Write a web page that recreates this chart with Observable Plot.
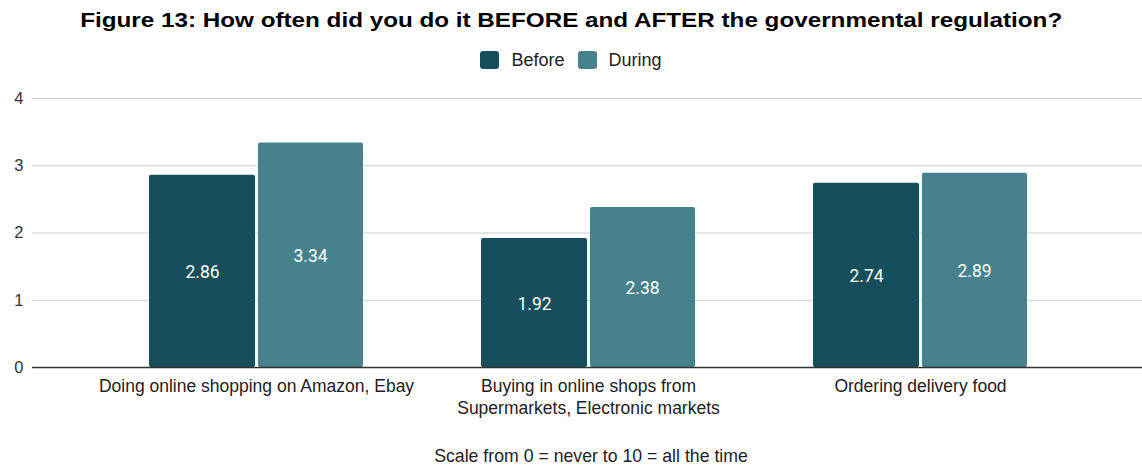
<!DOCTYPE html>
<html>
<head>
<meta charset="utf-8">
<script src="https://cdn.jsdelivr.net/npm/d3@7"></script>
<script src="https://cdn.jsdelivr.net/npm/@observablehq/plot@0.6"></script>
<style>
  html, body { margin: 0; padding: 0; background: #fff; }
  body { width: 1142px; font-family: "Liberation Sans", Arial, sans-serif; overflow: hidden; }
  #title { height: 40px; line-height: 40px; text-align: center; color: #000; white-space: nowrap; }
  #title span { display: inline-block; font-weight: bold; font-size: 20px; transform-origin: center center; }
  #legend { height: 40px; display: flex; justify-content: center; align-items: center; font-size: 18px; color: #222; }
  .item { display: flex; align-items: center; margin: 0 6.5px; }
  .sw { width: 19px; height: 18px; border-radius: 3px; margin-right: 12px; }
  #chart svg { display: block; }
  #caption { height: 20px; padding-top: 16px; line-height: 20px; font-size: 17.7px; color: #222; text-align: center; padding-left: 40px; white-space: nowrap; }
</style>
</head>
<body>
<div id="title"><span>Figure 13: How often did you do it BEFORE and AFTER the governmental regulation?</span></div>
<div id="legend"></div>
<div id="chart"></div>
<div id="caption">Scale from 0 = never to 10 = all the time</div>
<script>
const categories = [
  "Doing online shopping on Amazon, Ebay",
  "Buying in online shops from Supermarkets, Electronic markets",
  "Ordering delivery food"
];
const tickLabels = [
  "Doing online shopping on Amazon, Ebay",
  "Buying in online shops from\nSupermarkets, Electronic markets",
  "Ordering delivery food"
];
const seriesNames = ["Before", "During"];
const beforeValues = [2.86, 1.92, 2.74];
const duringValues = [3.34, 2.38, 2.89];
const seriesColors = ["#164f5b", "#47818c"];
const yTicks = [0, 1, 2, 3, 4];

const data = [];
categories.forEach((c, i) => {
  data.push({category: c, series: seriesNames[0], value: beforeValues[i]});
  data.push({category: c, series: seriesNames[1], value: duringValues[i]});
});
const beforeData = data.filter(d => d.series === "Before");
const duringData = data.filter(d => d.series === "During");

// title stretch to reference width
const tspan = document.querySelector("#title span");
const tw = tspan.getBoundingClientRect().width;
tspan.style.transform = `scaleX(${982 / tw})`;

// legend
const legend = document.getElementById("legend");
seriesNames.forEach((s, i) => {
  const it = document.createElement("div");
  it.className = "item";
  const sw = document.createElement("div");
  sw.className = "sw";
  sw.style.background = seriesColors[i];
  const t = document.createElement("span");
  t.textContent = s;
  it.appendChild(sw); it.appendChild(t);
  legend.appendChild(it);
});

const fill = d => seriesColors[seriesNames.indexOf(d.series)];

const chart = Plot.plot({
  width: 1142,
  height: 350,
  marginLeft: 32,
  marginRight: 0,
  marginTop: 18,
  marginBottom: 63,
  style: {fontFamily: "Liberation Sans, Arial, sans-serif", background: "#fff"},
  x: {type: "band", domain: categories, paddingInner: 0.3544, paddingOuter: 0.3439, align: 0.507, label: null},
  y: {domain: [0, 4], label: null},
  marks: [
    Plot.ruleY(yTicks.filter(d => d !== 0), {stroke: "#cccccc", strokeWidth: 1}),
    Plot.barY(beforeData, {x: "category", y: "value", fill, insetRight: 108, rx: 2}),
    Plot.barY(duringData, {x: "category", y: "value", fill, insetLeft: 109, rx: 2}),
    Plot.ruleY([0], {stroke: "#333333", strokeWidth: 1.3}),
    Plot.text(beforeData, {x: "category", y: d => d.value / 2, text: d => d.value.toFixed(2), dx: -54, dy: 1, fill: "#fff", fontSize: 17.5, fontFamily: "Roboto, sans-serif"}),
    Plot.text(duringData, {x: "category", y: d => d.value / 2, text: d => d.value.toFixed(2), dx: 54, dy: 1, fill: "#fff", fontSize: 17.5, fontFamily: "Roboto, sans-serif"}),
    Plot.axisY({ticks: yTicks, tickSize: 0, tickPadding: 9, fontSize: 16.5, fill: "#333", label: null, tickFormat: d => String(d)}),
    Plot.axisX({tickSize: 0, tickPadding: 9, fontSize: 17.5, fill: "#222", label: null, lineHeight: 1.257,
      tickFormat: d => tickLabels[categories.indexOf(d)]})
  ]
});
document.getElementById("chart").appendChild(chart);
</script>
</body>
</html>
